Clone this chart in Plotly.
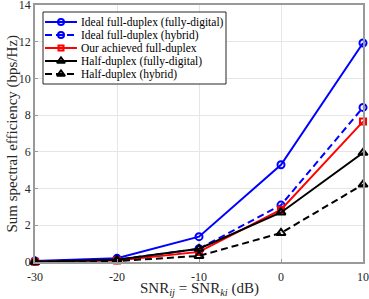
import plotly.graph_objects as go

snr = [-30, -20, -10, 0, 10]
ideal_fd_digital = [0.05, 0.2, 1.38, 5.3, 11.93]
ideal_fd_hybrid = [0.03, 0.12, 0.72, 3.1, 8.42]
our_fd = [0.02, 0.08, 0.55, 2.85, 7.65]
hd_digital = [0.02, 0.12, 0.72, 2.7, 5.95]
hd_hybrid = [0.01, 0.05, 0.33, 1.58, 4.22]

names = [
    "Ideal full-duplex (fully-digital)",
    "Ideal full-duplex (hybrid)",
    "Our achieved full-duplex",
    "Half-duplex (fully-digital)",
    "Half-duplex (hybrid)",
]
xticks = [-30, -20, -10, 0, 10]
yticks = [0, 2, 4, 6, 8, 10, 12, 14]

series = [
    (ideal_fd_digital, "#0000ff", "solid", "circle-open", 7),
    (ideal_fd_hybrid, "#0000ff", "7px,4px", "circle-open", 7),
    (our_fd, "#ff0000", "solid", "square-open", 6),
    (hd_digital, "#000000", "solid", "triangle-up-open", 8),
    (hd_hybrid, "#000000", "7px,4px", "triangle-up-open", 8),
]

W, H = 369, 299
L, R, T, B = 35, 6, 5, 37
font_family = "Liberation Serif, DejaVu Serif, serif"
x0p, x1p = L, W - R
y0p, y1p = T, H - B


def px_to_x(px):
    return xticks[0] + (px - x0p) / (x1p - x0p) * (xticks[-1] - xticks[0])


def px_to_y(py):
    return yticks[0] + (y1p - py) / (y1p - y0p) * (yticks[-1] - yticks[0])


fig = go.Figure()
for (vals, color, dash, sym, size), name in zip(series, names):
    fig.add_trace(go.Scatter(
        x=snr, y=vals, name=name, mode="lines+markers", showlegend=False,
        cliponaxis=False,
        line=dict(color=color, width=2, dash=dash),
        marker=dict(symbol=sym, size=size, color=color, line=dict(color=color, width=2)),
    ))

# custom legend (positions in pixels, converted to the axes)
leg_left, leg_right, leg_top, leg_bottom = 43, 226, 12, 84
row_y = [22, 35, 48, 61, 74]
fig.add_shape(type="rect", xref="x", yref="y",
              x0=px_to_x(leg_left), x1=px_to_x(leg_right),
              y0=px_to_y(leg_top), y1=px_to_y(leg_bottom), fillcolor="white",
              line=dict(color="#262626", width=1), layer="between")
for (vals, color, dash, sym, size), name, ry in zip(series, names, row_y):
    fig.add_trace(go.Scatter(
        x=[px_to_x(45), px_to_x(77)], y=[px_to_y(ry)] * 2, mode="lines",
        showlegend=False, hoverinfo="skip", cliponaxis=False,
        line=dict(color=color, width=2, dash=dash),
    ))
    fig.add_trace(go.Scatter(
        x=[px_to_x(61)], y=[px_to_y(ry)], mode="markers",
        showlegend=False, hoverinfo="skip", cliponaxis=False,
        marker=dict(symbol=sym, size=size - 1, color=color, line=dict(color=color, width=2)),
    ))
    fig.add_annotation(x=px_to_x(79), y=px_to_y(ry), xref="x", yref="y", text=name,
                       showarrow=False, xanchor="left", yanchor="middle",
                       font=dict(family=font_family, size=11.5, color="black"))

# axis titles
fig.add_annotation(x=0.5, y=-(289 - y1p) / (y1p - y0p), xref="paper", yref="paper",
                   text="SNR<sub><i>ij</i></sub> = SNR<sub><i>ki</i></sub> (dB)",
                   showarrow=False, xanchor="center", yanchor="middle",
                   font=dict(family=font_family, size=15, color="#262626"))
fig.add_annotation(x=-(x0p - 12) / (x1p - x0p), y=0.5, xref="paper", yref="paper",
                   text="Sum spectral efficiency (bps/Hz)", textangle=-90,
                   showarrow=False, xanchor="center", yanchor="middle",
                   font=dict(family=font_family, size=15, color="#262626"))

axis_common = dict(
    showgrid=True, gridcolor="#e6e6e6", gridwidth=1,
    showline=True, linecolor="#999999", linewidth=1.5, mirror=True,
    ticks="inside", ticklen=3, tickcolor="#999999",
    zeroline=False, automargin=False, ticklabeloverflow="allow",
    tickfont=dict(family=font_family, size=12, color="#262626"),
)
fig.update_layout(
    width=W, height=H,
    margin=dict(l=L, r=R, t=T, b=B, autoexpand=False),
    paper_bgcolor="white", plot_bgcolor="white",
    font=dict(family=font_family, size=11, color="#262626"),
    showlegend=False,
    hovermode=False,
    xaxis=dict(range=[xticks[0], xticks[-1]], tickvals=xticks, ticklabelstandoff=3,
               ticktext=[str(t) for t in xticks], **axis_common),
    yaxis=dict(range=[yticks[0], yticks[-1]], tickvals=yticks,
               ticktext=[str(t) for t in yticks], **axis_common),
)
fig.write_html("out.html", config={"displayModeBar": False},
               post_script="document.body.style.margin='0px';")
